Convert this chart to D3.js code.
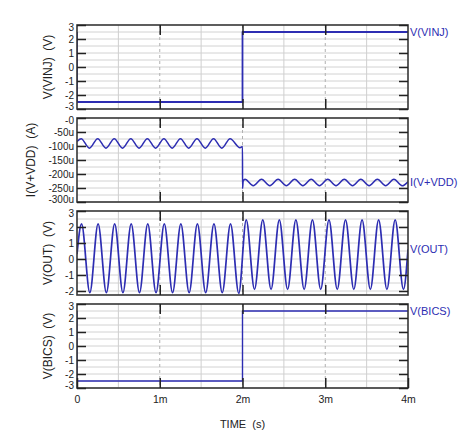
<!DOCTYPE html>
<html>
<head>
<meta charset="utf-8">
<script src="https://cdn.jsdelivr.net/npm/d3@7"></script>
<style>
  body { margin: 0; background: #fff; }
  text { font-family: "Liberation Sans", Arial, sans-serif; }
</style>
</head>
<body>
<svg id="chart" width="474" height="440"></svg>
<script>
// time axis in ms
const timeTicks = [0, 1, 2, 3, 4];
const timeTickLabels = ["0", "1m", "2m", "3m", "4m"];

// V(VINJ) step
const vinjTime = [0, 0, 2, 2, 4];
const vinjVolts = [2.5, -2.5, -2.5, 2.5, 2.5];

// I(V+VDD) in uA, peaks / troughs
const iddTime = [0, 0.05, 0.15, 0.25, 0.35, 0.45, 0.55, 0.65, 0.75, 0.85, 0.95,
  1.05, 1.15, 1.25, 1.35, 1.45, 1.55, 1.65, 1.75, 1.85, 1.97, 2.0, 2.0005, 2.008,
  2.03, 2.13, 2.23, 2.33, 2.43, 2.53, 2.63, 2.73, 2.83, 2.93, 3.03,
  3.13, 3.23, 3.33, 3.43, 3.53, 3.63, 3.73, 3.83, 3.93, 4.0];
const iddMicroAmps = [-84, -74, -108, -74, -108, -74, -108, -74, -108, -74, -108,
  -74, -108, -74, -108, -74, -108, -74, -108, -74, -106, -102, -252, -226,
  -219, -242, -219, -242, -219, -242, -219, -242, -219, -242, -219,
  -242, -219, -242, -219, -242, -219, -242, -219, -242, -228];

// V(OUT) peaks / troughs
const outTime = [0, 0.055, 0.155, 0.255, 0.355, 0.455, 0.555, 0.655, 0.755, 0.855, 0.955,
  1.055, 1.155, 1.255, 1.355, 1.455, 1.555, 1.655, 1.755, 1.855, 1.955,
  2.045, 2.145, 2.245, 2.345, 2.445, 2.545, 2.645, 2.745, 2.845, 2.945,
  3.045, 3.145, 3.245, 3.345, 3.445, 3.545, 3.645, 3.745, 3.845, 3.945, 4.0];
const outVolts = [0.3, 2.2, -2.1, 2.2, -2.1, 2.2, -2.1, 2.2, -2.1, 2.2, -2.1,
  2.2, -2.1, 2.2, -2.1, 2.2, -2.1, 2.2, -2.1, 2.2, -2.15,
  2.45, -1.9, 2.45, -1.9, 2.45, -1.9, 2.45, -1.9, 2.45, -1.9,
  2.45, -1.9, 2.45, -1.9, 2.45, -1.9, 2.45, -1.9, 2.45, -1.9, 0.6];

// V(BICS) step
const bicsTime = [0, 0, 2, 2, 4];
const bicsVolts = [2.5, -2.5, -2.5, 2.5, 2.5];

const voltTicks = [-3, -2, -1, 0, 1, 2, 3];
const voltTickLabels = ["-3", "-2", "-1", "0", "1", "2", "3"];
const ampTicks = [-300, -250, -200, -150, -100, -50, 0];
const ampTickLabels = ["-300u", "-250u", "-200u", "-150u", "-100u", "-50u", "-0"];
const outTicks = [-2, -1, 0, 1, 2, 3];
const outTickLabels = ["-2", "-1", "0", "1", "2", "3"];

const blue = "#2d2db2";
const frameColor = "#363636";

const svg = d3.select("#chart");
const left = 77, right = 408;
const panelH = 84, gap = 9, firstTop = 25;

const x = d3.scaleLinear().domain([0, 4]).range([left, right]);

const panels = [
  { title: "V(VINJ)  (V)", name: "V(VINJ)", t: vinjTime, v: vinjVolts, domain: [-3, 3],
    ticks: voltTicks, labels: voltTickLabels, grid: 0.5, curve: d3.curveLinear, width: 1.8 },
  { title: "I(V+VDD)  (A)", name: "I(V+VDD)", t: iddTime, v: iddMicroAmps, domain: [-300, 0],
    ticks: ampTicks, labels: ampTickLabels, grid: 25, curve: d3.curveMonotoneX, width: 1.5 },
  { title: "V(OUT)  (V)", name: "V(OUT)", t: outTime, v: outVolts, domain: [-2.25, 3],
    ticks: outTicks, labels: outTickLabels, grid: 0.5, curve: d3.curveMonotoneX, width: 1.7 },
  { title: "V(BICS)  (V)", name: "V(BICS)", t: bicsTime, v: bicsVolts, domain: [-3, 3],
    ticks: voltTicks, labels: voltTickLabels, grid: 0.5, curve: d3.curveLinear, width: 1.4 }
];

panels.forEach((p, i) => {
  const top = firstTop + i * (panelH + gap);
  const bottom = top + panelH;
  const y = d3.scaleLinear().domain(p.domain).range([bottom, top]);
  const g = svg.append("g");

  g.append("clipPath").attr("id", "clip" + i)
    .append("rect").attr("x", left).attr("y", top).attr("width", right - left).attr("height", panelH);

  // horizontal grid
  const gridVals = d3.range(Math.ceil(p.domain[0] / p.grid) * p.grid, p.domain[1], p.grid);
  g.selectAll(".hgrid").data(gridVals).join("line")
    .attr("x1", left).attr("x2", right)
    .attr("y1", d => y(d)).attr("y2", d => y(d))
    .attr("stroke", "#d2d2d2").attr("stroke-width", 1);

  // vertical grid
  g.selectAll(".vminor").data([0.5, 1.5, 2.5, 3.5]).join("line")
    .attr("x1", d => x(d)).attr("x2", d => x(d))
    .attr("y1", top).attr("y2", bottom)
    .attr("stroke", "#cfcfcf").attr("stroke-width", 1);
  g.selectAll(".vmajor").data([1, 2, 3]).join("line")
    .attr("x1", d => x(d)).attr("x2", d => x(d))
    .attr("y1", top).attr("y2", bottom)
    .attr("stroke", "#b0b0b0").attr("stroke-width", 1)
    .attr("stroke-dasharray", "3,3");

  // signal
  const pts = p.t.map((t, k) => [t, p.v[k]]);
  const line = d3.line().x(d => x(d[0])).y(d => y(d[1])).curve(p.curve);
  g.append("path")
    .attr("d", line(pts))
    .attr("clip-path", `url(#clip${i})`)
    .attr("fill", "none")
    .attr("stroke", blue)
    .attr("stroke-width", p.width)
    .attr("stroke-linejoin", "round");

  // frame
  g.append("rect")
    .attr("x", left).attr("y", top).attr("width", right - left).attr("height", panelH)
    .attr("fill", "none").attr("stroke", frameColor).attr("stroke-width", 1.6);

  // axes with inward ticks
  const leftAxis = g.append("g").attr("transform", `translate(${left},0)`)
    .call(d3.axisLeft(y).tickValues(p.ticks).tickFormat((d, k) => p.labels[k])
      .tickSize(-9).tickPadding(3));
  g.append("g").attr("transform", `translate(${right},0)`)
    .call(d3.axisRight(y).tickValues(p.ticks).tickFormat("").tickSize(-9));
  g.append("g").attr("transform", `translate(0,${top})`)
    .call(d3.axisTop(x).tickValues([1, 2, 3]).tickFormat("").tickSize(-10));
  const bottomAxis = d3.axisBottom(x).tickSize(-10).tickPadding(8);
  if (i === panels.length - 1) {
    bottomAxis.tickValues(timeTicks).tickFormat((d, k) => timeTickLabels[k]);
  } else {
    bottomAxis.tickValues([1, 2, 3]).tickFormat("");
  }
  const bAx = g.append("g").attr("transform", `translate(0,${bottom})`).call(bottomAxis);

  g.selectAll(".domain").remove();
  g.selectAll(".tick line").attr("stroke", "#222").attr("stroke-width", 1.5);
  g.selectAll(".tick text").attr("fill", "#222")
    .style("font-family", '"Liberation Sans", Arial, sans-serif');
  bAx.selectAll(".tick text").style("font-size", "10.5px");

  // y tick labels: end labels sit just inside the panel edge
  leftAxis.selectAll(".tick text")
    .style("font-size", "10px")
    .attr("dy", d => {
      if (d === p.domain[0]) return "0.7px";
      if (d === p.domain[1]) return "5.7px";
      return "3.2px";
    });

  // y title
  const bb = leftAxis.node().getBBox();
  const tx = left + bb.x - 17;
  const ty = (top + bottom) / 2;
  g.append("text")
    .attr("transform", `translate(${tx},${ty}) rotate(-90)`)
    .attr("text-anchor", "middle")
    .attr("dominant-baseline", "central")
    .style("white-space", "pre")
    .style("font-size", "12px")
    .attr("fill", "#222")
    .text(p.title);

  // trace name at right
  g.append("text")
    .attr("x", right + 2)
    .attr("y", y(p.v[p.v.length - 1]))
    .attr("dominant-baseline", "central")
    .style("font-size", "11px")
    .attr("fill", blue)
    .text(p.name);
});

svg.append("text")
  .attr("x", x(2)).attr("y", 428)
  .attr("text-anchor", "middle")
  .style("white-space", "pre")
  .style("font-size", "11px")
  .attr("fill", "#222")
  .text("TIME  (s)");
</script>
</body>
</html>
